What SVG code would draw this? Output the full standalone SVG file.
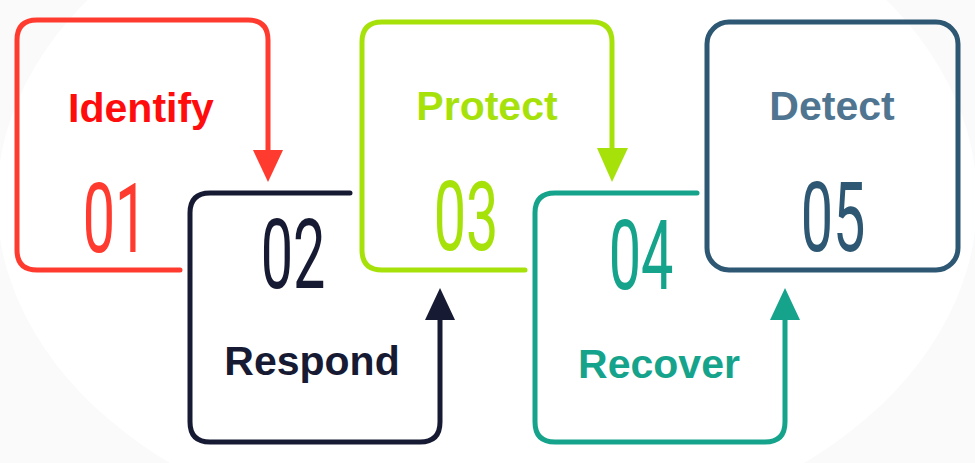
<svg xmlns="http://www.w3.org/2000/svg" width="975" height="463" viewBox="0 0 975 463">
  <style>
    .box { fill: none; stroke-width: 5; stroke-linecap: round; stroke-linejoin: round; }
    .lbl { font-family: "Liberation Sans", Arial, sans-serif; font-weight: bold; font-size: 41px; text-anchor: middle; }
    .num { font-family: Roboto, "Liberation Sans", sans-serif; font-weight: 400; font-size: 96px; text-anchor: middle; }
  </style>
  <rect width="975" height="463" fill="#fafafa"/>
  <ellipse cx="487" cy="200" rx="490" ry="345" fill="#ffffff"/>

  <g id="connectors">
    <path class="box" stroke="#ff3b2f" d="M180,270 H37 Q17,270 17,250 V40 Q17,20 37,20 H248 Q268,20 268,40 V152"/>
    <polygon fill="#ff3b2f" points="253,150 283,150 268,182"/>
    <path class="box" stroke="#171a33" d="M350,193 H210 Q190,193 190,213 V422 Q190,442 210,442 H420 Q440,442 440,422 V318"/>
    <polygon fill="#171a33" points="425,320 455,320 440,288"/>
    <path class="box" stroke="#a6e20a" d="M525,270 H382 Q362,270 362,250 V42 Q362,22 382,22 H592 Q612,22 612,42 V150"/>
    <polygon fill="#a6e20a" points="597,148 628,148 612,182"/>
    <path class="box" stroke="#15a38b" d="M697,193 H555 Q535,193 535,213 V422 Q535,442 555,442 H765 Q785,442 785,422 V318"/>
    <polygon fill="#15a38b" points="770,320 800,320 785,288"/>
  </g>

  <g id="n1">
    <text class="lbl" x="141" y="122" fill="#ff0d0d">Identify</text>
    <text class="num" transform="translate(115,252) scale(0.6,1)" fill="#ff3b2f">01</text>
  </g>
  <g id="n2">
    <text class="num" transform="translate(293,288) scale(0.6,1)" fill="#171a33">02</text>
    <text class="lbl" x="312" y="375" fill="#171a33">Respond</text>
  </g>
  <g id="n3">
    <text class="lbl" x="487" y="120" fill="#a6e20a">Protect</text>
    <text class="num" transform="translate(466,250) scale(0.6,1)" fill="#a6e20a">03</text>
  </g>
  <g id="n4">
    <text class="num" transform="translate(641,289) scale(0.6,1)" fill="#15a38b">04</text>
    <text class="lbl" x="659" y="378" fill="#15a38b">Recover</text>
  </g>
  <g id="n5">
    <rect class="box" x="707" y="22" width="251" height="248" rx="22" stroke="#2d5773"/>
    <text class="lbl" x="832" y="120" fill="#4f7590">Detect</text>
    <text class="num" transform="translate(833,251) scale(0.6,1)" fill="#2d5773">05</text>
  </g>
</svg>
